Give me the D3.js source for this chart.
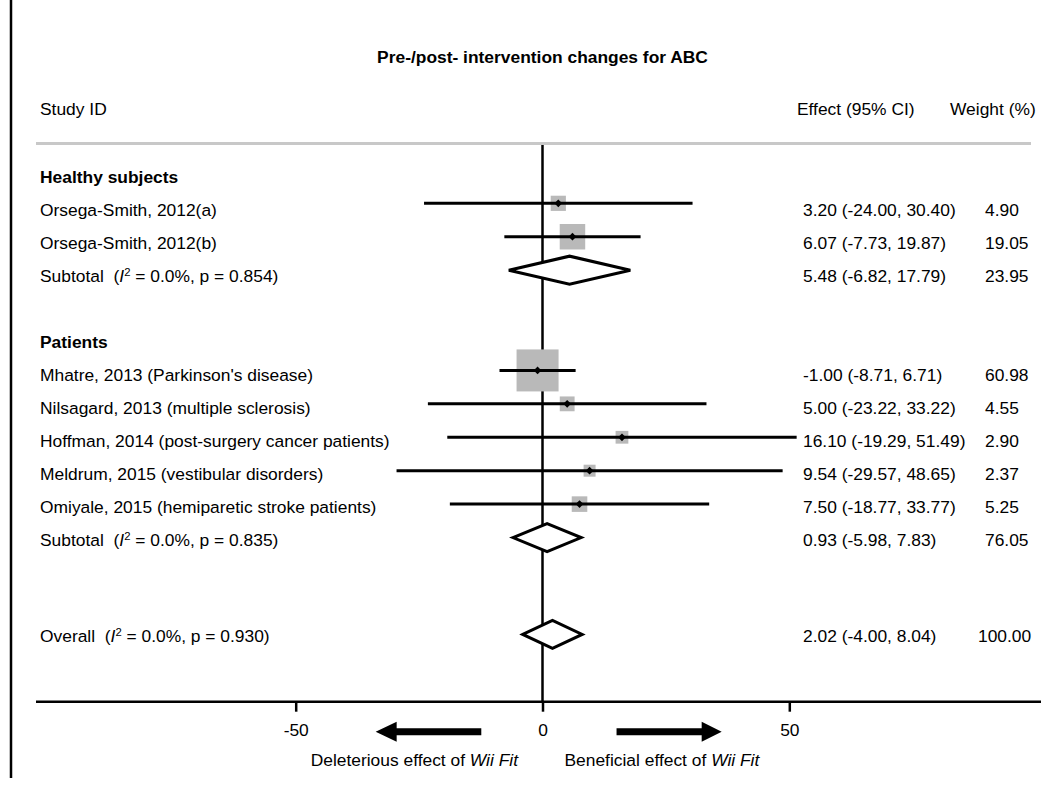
<!DOCTYPE html>
<html>
<head>
<meta charset="utf-8">
<script src="https://cdn.jsdelivr.net/npm/d3@7"></script>
<style>
  body { margin: 0; background: #fff; }
  svg { font-family: 'Liberation Sans', Arial, sans-serif; }
</style>
</head>
<body>
<div id="chart"></div>
<script>
// data
const title = 'Pre-/post- intervention changes for ABC'
const groups = ['Healthy subjects', 'Patients']
const studies = [
  'Orsega-Smith, 2012(a)',
  'Orsega-Smith, 2012(b)',
  "Mhatre, 2013 (Parkinson's disease)",
  'Nilsagard, 2013 (multiple sclerosis)',
  'Hoffman, 2014 (post-surgery cancer patients)',
  'Meldrum, 2015 (vestibular disorders)',
  'Omiyale, 2015 (hemiparetic stroke patients)'
]
const studyGroup = [0, 0, 1, 1, 1, 1, 1]
const effects = [3.20, 6.07, -1.00, 5.00, 16.10, 9.54, 7.50]
const lower = [-24.00, -7.73, -8.71, -23.22, -19.29, -29.57, -18.77]
const upper = [30.40, 19.87, 6.71, 33.22, 51.49, 48.65, 33.77]
const weights = [4.90, 19.05, 60.98, 4.55, 2.90, 2.37, 5.25]

const subEffect = [5.48, 0.93]
const subLower = [-6.82, -5.98]
const subUpper = [17.79, 7.83]
const subWeight = [23.95, 76.05]
const subI2 = ['0.0%', '0.0%']
const subP = ['0.854', '0.835']

const overall = { effect: 2.02, lower: -4.00, upper: 8.04, weight: 100.00, i2: '0.0%', p: '0.930' }

const tickValues = [-50, 0, 50]
const arrowLabels = ['Deleterious effect of ', 'Beneficial effect of ']

// layout
const width = 1041, height = 786
const fs = 17.4
// plain hyphen for negatives, like the original
const loc = d3.formatLocale({ decimal: '.', thousands: ',', grouping: [3], currency: ['', ''], minus: '-' })
const f2 = loc.format('.2f')

const x = d3.scaleLinear().domain([-50, 50]).range([295.7, 789.3])
const yMark = d3.scaleLinear().domain([0, 14]).range([169.9, 637.8])
const yText = d3.scaleLinear().domain([0, 14]).range([177, 639])
const boxSize = d3.scaleSqrt().domain([0, d3.max(weights)]).range([4.6, 42])

// build rows
let rows = []
let r = 0
groups.forEach((g, gi) => {
  rows.push({ row: r++, type: 'header', label: g })
  studies.forEach((s, i) => {
    if (studyGroup[i] !== gi) return
    rows.push({ row: r++, type: 'study', label: s, effect: effects[i], lower: lower[i], upper: upper[i], weight: weights[i] })
  })
  rows.push({ row: r++, type: 'sub', label: 'Subtotal', i2: subI2[gi], p: subP[gi],
    effect: subEffect[gi], lower: subLower[gi], upper: subUpper[gi], weight: subWeight[gi] })
  r++
})
rows.push({ row: 13.9, type: 'overall', label: 'Overall', i2: overall.i2, p: overall.p,
  effect: overall.effect, lower: overall.lower, upper: overall.upper, weight: overall.weight })

const svg = d3.select('#chart').append('svg')
  .attr('width', width)
  .attr('height', height)

// left border
svg.append('line')
  .attr('x1', 11).attr('x2', 11).attr('y1', 0).attr('y2', 778)
  .attr('stroke', '#000').attr('stroke-width', 2.5)

svg.append('text')
  .attr('x', x(0)).attr('y', 63)
  .attr('text-anchor', 'middle')
  .attr('font-weight', 'bold')
  .attr('font-size', fs)
  .text(title)

// column headers
const head = svg.append('g').attr('font-size', fs)
head.append('text').attr('x', 40).attr('y', 115).text('Study ID')
head.append('text').attr('x', 797).attr('y', 115).text('Effect (95% CI)')
head.append('text').attr('x', 950).attr('y', 115).text('Weight (%)')

svg.append('line')
  .attr('x1', 36).attr('x2', 1031).attr('y1', 143.5).attr('y2', 143.5)
  .attr('stroke', '#c8c8c8').attr('stroke-width', 3)

// zero line
svg.append('line')
  .attr('x1', x(0)).attr('x2', x(0)).attr('y1', 145).attr('y2', 702)
  .attr('stroke', '#000').attr('stroke-width', 2.5)

// labels
const labels = svg.append('g').attr('font-size', fs)
labels.selectAll('text')
  .data(rows)
  .join('text')
    .attr('x', 40)
    .attr('y', d => yText(d.row) + 6)
    .attr('font-weight', d => d.type === 'header' ? 'bold' : null)
    .each(function (d) {
      const t = d3.select(this)
      if (d.type === 'sub' || d.type === 'overall') {
        t.append('tspan').text(d.label + '\u00a0 (')
        t.append('tspan').attr('font-style', 'italic').text('I')
        t.append('tspan').attr('font-size', fs * 0.65).attr('dy', -6).text('2')
        t.append('tspan').attr('dy', 6).text(` = ${d.i2}, p = ${d.p})`)
      } else {
        t.text(d.label)
      }
    })

const vals = rows.filter(d => d.type !== 'header')
svg.append('g').attr('font-size', fs)
  .selectAll('text')
  .data(vals)
  .join('text')
    .attr('x', 803)
    .attr('y', d => yText(d.row) + 6)
    .text(d => `${f2(d.effect)} (${f2(d.lower)}, ${f2(d.upper)})`)

svg.append('g').attr('font-size', fs)
  .selectAll('text')
  .data(vals)
  .join('text')
    .attr('x', d => d.type === 'overall' ? 978 : 985)
    .attr('y', d => yText(d.row) + 6)
    .text(d => f2(d.weight))

// study markers
const st = rows.filter(d => d.type === 'study')
svg.append('g')
  .selectAll('rect')
  .data(st)
  .join('rect')
    .attr('x', d => x(d.effect) - boxSize(d.weight) / 2)
    .attr('y', d => yMark(d.row) - boxSize(d.weight) / 2)
    .attr('width', d => boxSize(d.weight))
    .attr('height', d => boxSize(d.weight))
    .attr('fill', '#b9b9b9')

svg.append('g')
  .selectAll('line')
  .data(st)
  .join('line')
    .attr('x1', d => x(d.lower))
    .attr('x2', d => x(d.upper))
    .attr('y1', d => yMark(d.row))
    .attr('y2', d => yMark(d.row))
    .attr('stroke', '#000')
    .attr('stroke-width', 3)

svg.append('g')
  .selectAll('path')
  .data(st)
  .join('path')
    .attr('d', d3.symbol(d3.symbolSquare, 30))
    .attr('transform', d => `translate(${x(d.effect)},${yMark(d.row)}) rotate(45)`)
    .attr('fill', '#000')

// pooled diamonds
svg.append('g')
  .selectAll('path')
  .data(rows.filter(d => d.type === 'sub' || d.type === 'overall'))
  .join('path')
    .attr('d', d => {
      const y = yMark(d.row), h = 14
      return `M${x(d.lower)},${y}L${x(d.effect)},${y - h}L${x(d.upper)},${y}L${x(d.effect)},${y + h}Z`
    })
    .attr('fill', '#fff')
    .attr('stroke', '#000')
    .attr('stroke-width', 3)
    .attr('stroke-linejoin', 'miter')

// axis
const axisY = 701.7
svg.append('line')
  .attr('x1', 36).attr('x2', width).attr('y1', axisY).attr('y2', axisY)
  .attr('stroke', '#000').attr('stroke-width', 2.5)

const axis = svg.append('g')
  .attr('transform', `translate(0,${axisY})`)
  .call(d3.axisBottom(x).tickValues(tickValues).tickSize(10).tickPadding(12).tickFormat(loc.format('d')))
axis.select('.domain').remove()
axis.selectAll('.tick line').attr('stroke-width', 2.5)
axis.selectAll('.tick text')
  .attr('font-size', fs)
  .attr('font-family', 'Liberation Sans, Arial, sans-serif')
  .attr('fill', '#000')

// direction arrows
const arrowY = 731.7
const leftArrow = [[x(-33.8), arrowY], [x(-33.8) + 21, arrowY - 10], [x(-33.8) + 21, arrowY - 3.5],
  [x(-12.4), arrowY - 3.5], [x(-12.4), arrowY + 3.5], [x(-33.8) + 21, arrowY + 3.5], [x(-33.8) + 21, arrowY + 10]]
const rightArrow = [[x(36.3), arrowY], [x(36.3) - 20, arrowY - 10], [x(36.3) - 20, arrowY - 3.5],
  [x(15), arrowY - 3.5], [x(15), arrowY + 3.5], [x(36.3) - 20, arrowY + 3.5], [x(36.3) - 20, arrowY + 10]]
svg.append('g')
  .selectAll('polygon')
  .data([leftArrow, rightArrow])
  .join('polygon')
    .attr('points', d => d.map(p => p.join(',')).join(' '))
    .attr('fill', '#000')

const al = svg.append('g').attr('font-size', fs)
al.append('text')
  .attr('x', x(0) - 24.5).attr('y', 766)
  .attr('text-anchor', 'end')
  .call(t => {
    t.append('tspan').text(arrowLabels[0])
    t.append('tspan').attr('font-style', 'italic').text('Wii Fit')
  })
al.append('text')
  .attr('x', x(0) + 22).attr('y', 766)
  .call(t => {
    t.append('tspan').text(arrowLabels[1])
    t.append('tspan').attr('font-style', 'italic').text('Wii Fit')
  })
</script>
</body>
</html>
